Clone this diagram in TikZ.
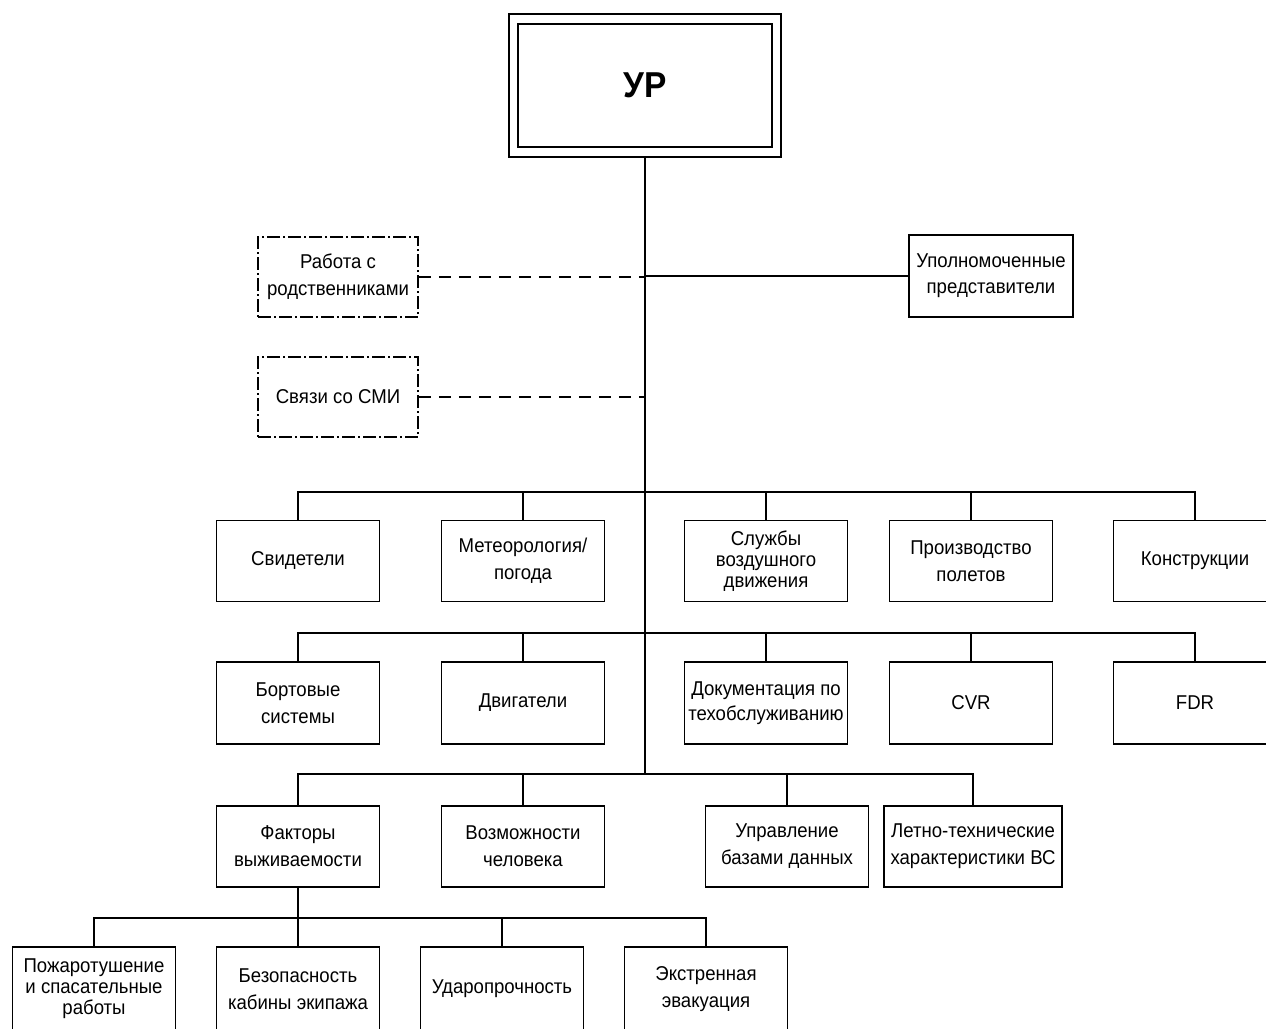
\documentclass[tikz,border=0pt]{standalone}
\usepackage{fontspec}
\setmainfont{Liberation Sans}[FakeStretch=0.93]
\usetikzlibrary{positioning}

\begin{document}
\begin{tikzpicture}[x=1pt, y=-1pt,
	box/.style={draw, line width=1.3pt, minimum width=163pt, minimum height=81pt, inner sep=2pt, align=center, font=\fontsize{20}{27}\selectfont},
	tightbox/.style={box, font=\fontsize{20}{21}\selectfont},
	dashbox/.style={box, minimum width=160pt, minimum height=80pt, line width=1.8pt, dash pattern=on 13pt off 3pt on 2pt off 3pt},
	bus/.style={line width=1.8pt},
	dashlink/.style={line width=1.8pt, dash pattern=on 12pt off 8pt}]

	\path[use as bounding box, clip] (0,0) rectangle (1266,1028);

	% Head %
	\node[draw, line width=1.3pt, minimum width=272pt, minimum height=143pt, font=\fontsize{36}{40}\selectfont\bfseries] (ur) at (645,85.5) {УР};
	\node[draw, line width=1.3pt, minimum width=254pt, minimum height=123pt] (urin) at (ur.center) {};
	% Side boxes %
	\node[dashbox] (rodst) at (338,277) {Работа с\\родственниками};
	\node[dashbox] (smi) at (338,397) {Связи со СМИ};
	\node[box, minimum width=164pt, minimum height=82pt, font=\fontsize{20}{26}\selectfont] (upoln) at (991,276) {Уполномоченные\\представители};
	% Row 1 %
	\node[box] (svid) at (298,561) {Свидетели};
	\node[box] (meteo) at (523,561) {Метеорология/\\погода};
	\node[tightbox] (atc) at (766,561) {Службы\\воздушного\\движения};
	\node[box] (polet) at (971,561) {Производство\\полетов};
	\node[box] (konstr) at (1195,561) {Конструкции};
	% Row 2 %
	\node[box, minimum height=82pt] (bort) at (298,703) {Бортовые\\системы};
	\node[box, minimum height=82pt] (dvig) at (523,703) {Двигатели};
	\node[box, minimum height=82pt, font=\fontsize{20}{25}\selectfont] (docum) at (766,703) {Документация по\\техобслуживанию};
	\node[box, minimum height=82pt] (cvr) at (971,703) {CVR};
	\node[box, minimum height=82pt] (fdr) at (1195,703) {FDR};
	% Row 3 %
	\node[box] (fact) at (298,846.5) {Факторы\\выживаемости};
	\node[box] (vozm) at (523,846.5) {Возможности\\человека};
	\node[box] (baza) at (787,846.5) {Управление\\базами данных};
	\node[box, minimum width=178pt] (letno) at (973,846.5) {Летно-технические\\характеристики ВС};
	% Row 4 %
	\node[tightbox, minimum height=84pt] (pozh) at (94,989) {Пожаротушение\\и спасательные\\работы};
	\node[box, minimum height=84pt] (bezop) at (298,989) {Безопасность\\кабины экипажа};
	\node[box, minimum height=84pt] (udar) at (502,989) {Ударопрочность};
	\node[box, minimum height=84pt] (evak) at (706,989) {Экстренная\\эвакуация};

	% Junctions %
	\coordinate (j1) at (645,492);
	\coordinate (j2) at (645,633);
	\coordinate (j3) at (645,774);
	\coordinate (j4) at (298,918);

	% Trunk and side links %
	\draw[bus] (ur.south) -- (j3);
	\draw[bus] (upoln.west) -- (upoln.west -| ur.south);
	\draw[dashlink] (rodst.east) -- (rodst.east -| ur.south);
	\draw[dashlink] (smi.east) -- (smi.east -| ur.south);
	% Buses %
	\draw[bus] (svid.north) |- (j1) -| (konstr.north);
	\foreach \n in {meteo, atc, polet} \draw[bus] (\n.north) -- (\n.north |- j1);
	\draw[bus] (bort.north) |- (j2) -| (fdr.north);
	\foreach \n in {dvig, docum, cvr} \draw[bus] (\n.north) -- (\n.north |- j2);
	\draw[bus] (fact.north) |- (j3) -| (letno.north);
	\foreach \n in {vozm, baza} \draw[bus] (\n.north) -- (\n.north |- j3);
	\draw[bus] (fact.south) -- (j4);
	\draw[bus] (pozh.north) |- (j4) -| (evak.north);
	\foreach \n in {bezop, udar} \draw[bus] (\n.north) -- (\n.north |- j4);
\end{tikzpicture}
\end{document}
